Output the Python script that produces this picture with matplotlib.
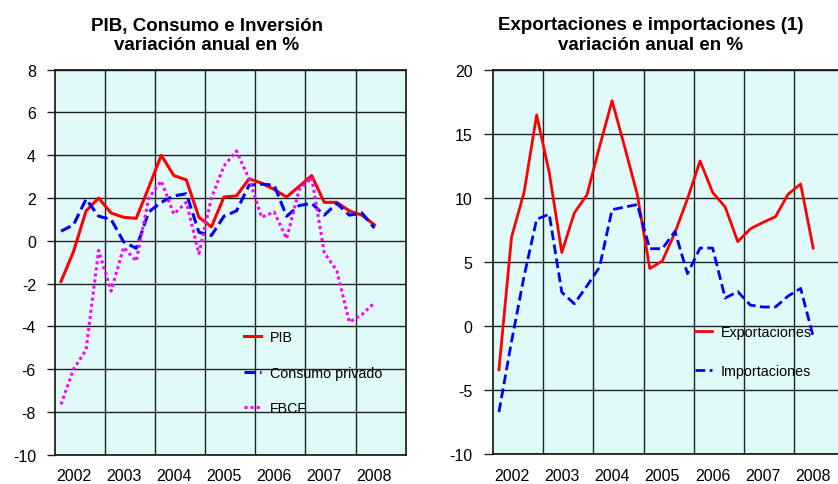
import matplotlib
import numpy as np

matplotlib.use("Agg")
import matplotlib.pyplot as plt  # noqa: E402
from matplotlib.ticker import FixedLocator, MultipleLocator  # noqa: E402

plt.rcParams["font.family"] = ["Liberation Sans", "DejaVu Sans"]
plt.rcParams["axes.unicode_minus"] = False

# quarterly data, 2002Q1 .. 2008Q2
years = ["2002", "2003", "2004", "2005", "2006", "2007", "2008"]

pib = [-1.9, -0.5, 1.4, 2.0, 1.3, 1.1, 1.05, 2.5, 4.0, 3.05, 2.85, 1.1, 0.65,
       2.05, 2.1, 2.9, 2.7, 2.4, 2.05, 2.55, 3.05, 1.8, 1.8, 1.4, 1.2, 0.75]
consumo = [0.45, 0.75, 1.95, 1.15, 1.0, -0.05, -0.35, 1.35, 1.8, 2.1, 2.2, 0.4, 0.25,
           1.15, 1.4, 2.6, 2.65, 2.6, 1.15, 1.65, 1.75, 1.2, 1.75, 1.2, 1.3, 0.6]
fbcf = [-7.65, -6.0, -5.1, -0.45, -2.35, -0.3, -0.95, 2.0, 2.8, 1.25, 1.8, -0.6, 2.0,
        3.5, 4.2, 2.9, 1.1, 1.35, 0.1, 2.4, 2.95, -0.55, -1.4, -3.8, -3.45, -2.9]

exportaciones = [-3.4, 6.95, 10.45, 16.5, 12.0, 5.75, 8.85, 10.25, 14.0, 17.6, 14.0, 10.3, 4.5,
                 5.1, 7.3, 9.95, 12.9, 10.45, 9.3, 6.6, 7.6, 8.1, 8.55, 10.3, 11.1, 6.1]
importaciones = [-6.7, -1.2, 3.9, 8.35, 8.75, 2.65, 1.75, 3.15, 4.6, 9.1, 9.3, 9.5, 6.05,
                 6.05, 7.4, 4.1, 6.1, 6.1, 2.2, 2.7, 1.65, 1.5, 1.5, 2.35, 2.95, -0.8]

BG = "#e0fafa"
GRID = "#1f1f1f"


def _style_axes(ax, ylim, ystep, ytick_len):
    n_cat = len(years) * 4
    ax.set_facecolor(BG)
    ax.set_xlim(-0.5, n_cat - 0.5)
    ax.set_ylim(*ylim)
    ax.yaxis.set_major_locator(MultipleLocator(ystep))
    # year label sits under the 2nd quarter, grid between years
    ax.xaxis.set_major_locator(FixedLocator([1 + 4 * k for k in range(len(years))]))
    ax.set_xticklabels(years)
    ax.xaxis.set_minor_locator(FixedLocator([3.5 + 4 * k for k in range(len(years) - 1)]))
    ax.grid(False)
    ax.grid(True, which="minor", axis="x", color=GRID, lw=1.0)
    ax.grid(True, which="major", axis="y", color=GRID, lw=1.0)
    ax.set_axisbelow(True)
    ax.tick_params(axis="x", which="both", length=0, pad=9.5, labelsize=11.5)
    ax.tick_params(axis="y", length=ytick_len, width=1.0, pad=8, labelsize=11.5,
                   color=GRID)
    for s in ax.spines.values():
        s.set_color("#111111")
        s.set_linewidth(1.2)


fig = plt.figure(figsize=(8.38, 4.85), dpi=100)
x = np.arange(len(pib))

# left panel
ax1 = fig.add_axes([0.0653, 0.0604, 0.4189, 0.7938])
_style_axes(ax1, (-10, 8), 2, 5.5)
ax1.plot(x, pib, color="#ff0000", lw=2.2, label="PIB")
ax1.plot(x, consumo, color="#0000ff", lw=2.2, dashes=(3.5, 1.6), label="Consumo privado")
ax1.plot(x, fbcf, color="#ff00ff", lw=2.2, dashes=(1, 1), dash_capstyle="butt",
         label="FBCF")
ax1.legend(loc="upper left", bbox_to_anchor=(0.539, 0.323), frameon=False,
           fontsize=10.3, handlelength=1.2, handletextpad=0.6, labelspacing=1.5,
           borderpad=0, borderaxespad=0)

# right panel
ax2 = fig.add_axes([0.5879, 0.0612, 0.42, 0.7924])
_style_axes(ax2, (-10, 20), 5, 6.5)
ax2.plot(x, exportaciones, color="#ff0000", lw=2.0, label="Exportaciones")
ax2.plot(x, importaciones, color="#0000ff", lw=2.0, dashes=(3.5, 1.6), label="Importaciones")
ax2.legend(loc="upper left", bbox_to_anchor=(0.575, 0.337), frameon=False,
           fontsize=10.3, handlelength=1.2, handletextpad=0.6, labelspacing=1.75,
           borderpad=0, borderaxespad=0)

# titles (centred over the chart area, not the plot area)
W, H = 838, 485
for cx, line1 in [(207, "PIB, Consumo e Inversión"), (651, "Exportaciones e importaciones (1)")]:
    fig.text(cx / W, 1 - 30.5 / H, line1, ha="center", va="baseline",
             fontsize=13.5, fontweight="bold")
    fig.text(cx / W, 1 - 49.5 / H, "variación anual en %", ha="center", va="baseline",
             fontsize=13.5, fontweight="bold")

fig.savefig("out.png", dpi=100)
